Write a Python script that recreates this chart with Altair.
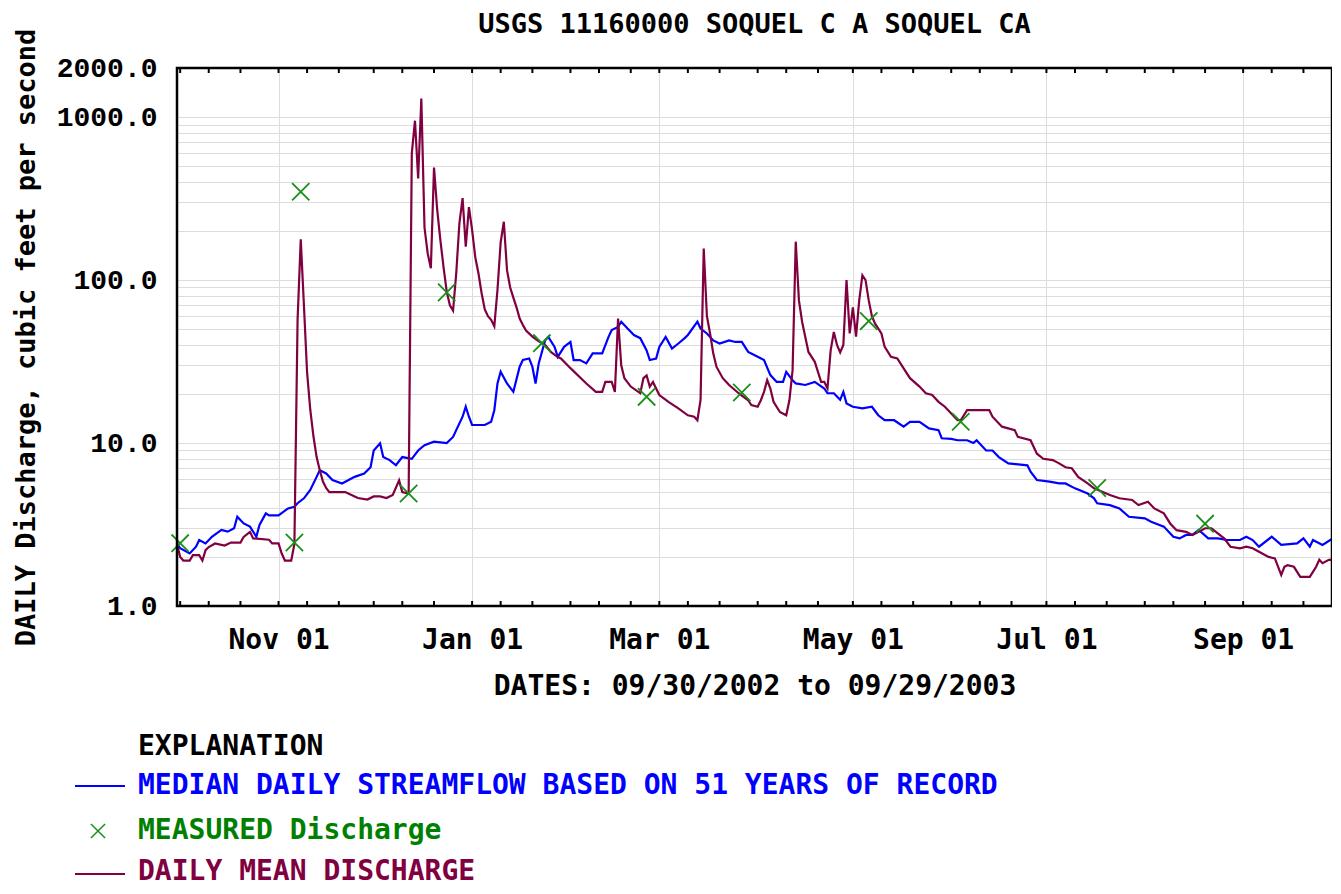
import altair as alt
import pandas as pd

START = pd.Timestamp("2002-09-30")

# ---- daily mean discharge (day offset from 2002-09-30, cfs)
mean_days = [0, 1, 2, 4, 5, 7, 8, 9, 10, 12, 15, 17, 20, 21, 23, 24, 29, 30, 32, 33, 34, 36,
             37, 38, 39, 40, 41, 42, 43, 44, 45, 46, 47, 48, 53, 55, 57, 60, 62, 64, 66, 68,
             70, 71, 73, 74, 75, 76, 77, 78, 79, 80, 81, 82, 83, 84, 85, 86, 87, 88, 89, 90,
             91, 92, 93, 94, 95, 96, 97, 98, 99, 100, 101, 102, 103, 104, 105, 106, 107, 108,
             109, 110, 112, 114, 116, 118, 120, 121, 124, 129, 132, 134, 135, 137, 138, 139,
             140, 141, 143, 146, 147, 148, 149, 150, 152, 155, 158, 161, 163, 164, 165, 166,
             167, 168, 169, 170, 172, 174, 177, 180, 181, 183, 184, 185, 186, 187, 188, 190,
             192, 193, 194, 195, 196, 197, 199, 201, 202, 203, 204, 205, 206, 207, 208, 209,
             210, 211, 212, 213, 214, 215, 216, 217, 218, 219, 220, 222, 223, 225, 227, 229,
             231, 234, 236, 238, 240, 242, 244, 246, 247, 249, 256, 257, 260, 264, 265, 269,
             271, 273, 276, 278, 280, 282, 284, 287, 289, 294, 297, 301, 303, 306, 308, 311,
             313, 315, 318, 320, 322, 324, 326, 328, 330, 332, 335, 337, 339, 341, 344, 346,
             348, 349, 350, 352, 354, 357, 358, 359, 360, 361, 363, 364]
mean_vals = [2.4, 2.0, 1.9, 1.9, 2.05, 2.05, 1.9, 2.2, 2.3, 2.42, 2.35, 2.45, 2.45, 2.65, 2.85,
             2.6, 2.55, 2.42, 2.42, 2.1, 1.9, 1.9,
             2.4, 57, 178, 70, 27, 16, 11, 8.2, 6.8, 5.8, 5.3, 5.0, 5.0, 4.8, 4.6, 4.5, 4.7, 4.7,
             4.6, 4.8,
             5.9, 5.0, 4.9, 600, 950, 420, 1300, 210, 146, 118, 490, 270, 176, 120, 85, 70, 65,
             110, 223, 318,
             160, 280, 203, 138, 110, 83, 66, 60, 57, 52, 87, 170, 228, 115, 90, 78, 68, 58,
             53, 49, 45, 42, 40, 36, 33.7, 33, 28.8, 23.2, 20.6, 20.6, 23.7, 23.7, 20.6, 58,
             30, 25, 22.2, 20.2, 25, 26, 22.2, 23.7, 19.7, 17.8, 16.3, 14.8, 14.5, 13.8, 18.4,
             156,
             60, 47, 35.5, 29.4, 25, 22.7, 20.2, 18.3, 17.1, 16.7, 18.3, 20.6, 24.3, 21.6, 17.9,
             15.5,
             14.8, 18.3, 28, 172, 75, 55.5, 36.2, 31.5, 27.3, 23.7, 23.7, 21.6, 37, 48, 40, 36,
             40, 100, 47, 68, 45, 75, 107, 100, 75, 60, 54, 47, 39, 33.8, 33, 28.7,
             25, 22.2, 20.2, 19.7, 17.9, 16.7, 15.2, 13.8, 13.8, 15.9, 15.9, 14.5, 12.6, 12.0,
             10.9, 10.4,
             8.6, 8.0, 7.86, 7.5, 7.1, 7.0, 6.2, 5.65, 5.27, 4.8, 4.58, 4.47, 4.16, 4.36, 3.97,
             3.7,
             3.21, 2.92, 2.85, 2.73, 2.85, 3.0, 3.0, 2.79, 2.6, 2.31, 2.26, 2.31, 2.26, 2.15,
             2.0, 1.96,
             1.55, 1.74, 1.78, 1.74, 1.51, 1.51, 1.62, 1.74, 1.92, 1.83, 1.92, 1.92]

# ---- median daily streamflow (51 years)
median_days = [0, 1, 4, 6, 7, 9, 11, 14, 16, 18, 19, 21, 23, 25, 26, 28, 29, 32, 35, 37, 38, 40,
               42, 44, 45, 47, 49, 52, 56, 59, 61, 62, 64, 65, 67, 69, 71, 74, 76, 78, 81, 85,
               87, 88, 90, 91, 92, 93, 97, 99, 100, 101, 102, 104, 106, 108, 109, 111, 112, 113,
               114, 116, 117, 119, 120, 122, 124, 125, 127, 129, 131, 134, 136, 137, 139, 140,
               142, 144, 146, 148, 149, 151, 152, 154, 156, 158, 160, 161, 164, 165, 167, 169,
               171, 174, 176, 178, 180, 183, 185, 187, 189, 191, 192, 194, 195, 198, 201, 204,
               205, 207, 209, 210, 211, 213, 216, 219, 221, 223, 226, 229, 231, 234, 237, 240,
               241, 244, 246, 249, 251, 252, 255, 257, 259, 262, 268, 269, 271, 275, 278, 280,
               283, 287, 289, 290, 294, 297, 300, 305, 307, 311, 314, 316, 318, 320, 322, 325,
               328, 331, 335, 337, 339, 341, 345, 348, 353, 355, 357, 358, 361, 364]
median_vals = [2.42, 2.26, 2.1, 2.31, 2.54, 2.42, 2.66, 2.93, 2.86, 3.0, 3.53, 3.21, 3.07, 2.66,
               3.14, 3.7, 3.6, 3.6, 3.97, 4.06, 4.27, 4.58,
               5.15, 6.2, 6.8, 6.5, 5.93, 5.65, 6.2, 6.5, 7.1, 9.0, 9.95, 8.2, 7.86, 7.3, 8.2,
               8.0, 9.0, 9.7, 10.2, 10.0,
               10.9, 12.0, 14.5, 16.7, 14.5, 12.9, 12.9, 13.5, 15.9, 23.2, 27.4, 23.2, 20.6,
               29.4, 32.3, 33, 29.4, 23.2,
               30.8, 42.6, 44.8, 38.9, 33.8, 38.9, 41.7, 32.3, 32.3, 30.8, 35.5, 35.5, 44.8,
               49.4, 51.5, 55.5,
               50.4, 46, 44, 37, 32.3, 33, 38.9, 44.8, 38, 40.8, 44, 46, 55.5, 50.4, 47, 42.6,
               40.8, 42.6, 41.7, 41.7, 36.2, 33.8, 32.3, 26.1, 23.7, 23.7, 27.3, 24.3, 23.2,
               22.7, 23.7, 21.6,
               20.2, 20.2, 18.4, 20.6, 17.5, 16.7, 16.3, 16.7, 14.8, 13.8, 13.8, 12.6, 13.5,
               13.5, 12.3, 12.0,
               10.7, 10.6, 10.4, 10.4, 10.0, 10.4, 9.0, 9.0, 8.2, 7.5, 7.3, 6.66, 5.93, 5.8,
               5.65, 5.65,
               5.27, 4.9, 4.58, 4.27, 4.16, 3.97, 3.53, 3.45, 3.29, 3.07, 2.66, 2.6, 2.73, 2.73,
               2.93, 2.6,
               2.6, 2.54, 2.54, 2.66, 2.54, 2.31, 2.66, 2.37, 2.42, 2.6, 2.31, 2.54, 2.37, 2.58]

# ---- measured discharge
meas_days = [1, 37, 39, 73, 85, 115, 148, 178, 218, 247, 290, 324]
meas_vals = [2.43, 2.45, 348, 4.9, 84, 41, 19.2, 20.4, 56, 13.5, 5.3, 3.2]

# ---- axis text
x_label_dates = [(2002, 11), (2003, 1), (2003, 3), (2003, 5), (2003, 7), (2003, 9)]
y_grid_values = [1, 2, 3, 4, 5, 6, 7, 8, 9, 10, 20, 30, 40, 50, 60, 70, 80, 90,
                 100, 200, 300, 400, 500, 600, 700, 800, 900, 1000, 2000]
y_label_values = [1, 10, 100, 1000, 2000]
minor_tick_days_of_month = [1, 10, 20]

TITLE = "USGS 11160000 SOQUEL C A SOQUEL CA"
X_TITLE = "DATES: 09/30/2002 to 09/29/2003"
Y_TITLE = "DAILY Discharge, cubic feet per second"
LEG_HEAD = "EXPLANATION"
LEG_MEDIAN = "MEDIAN DAILY STREAMFLOW BASED ON 51 YEARS OF RECORD"
LEG_MEAS = "MEASURED Discharge"
LEG_MEAN = "DAILY MEAN DISCHARGE"

BLUE = "#0000ff"
MAROON = "#800040"
GREEN = "#1a901a"
GREEN_TXT = "#008000"
MONO = "DejaVu Sans Mono"
W, H = 1155, 538


def to_dates(days):
    return [(START + pd.Timedelta(days=int(d))).strftime("%Y-%m-%dT00:00:00") for d in days]


df = pd.concat([
    pd.DataFrame({"date": to_dates(median_days), "value": median_vals, "series": "median"}),
    pd.DataFrame({"date": to_dates(mean_days), "value": mean_vals, "series": "mean"}),
    pd.DataFrame({"date": to_dates(meas_days), "value": meas_vals, "series": "measured"}),
], ignore_index=True)

tick_dates = []
for yr, mo in [(2002, 10), (2002, 11), (2002, 12)] + [(2003, m) for m in range(1, 10)]:
    for dd in minor_tick_days_of_month:
        tick_dates.append(pd.Timestamp(year=yr, month=mo, day=dd).strftime("%Y-%m-%dT00:00:00"))
ticks_df = pd.DataFrame({"date": tick_dates})

label_expr = ("indexof([" + ",".join(str(v) for v in y_label_values) +
              "], datum.value) >= 0 ? format(datum.value, '.1f') : ''")

X = alt.X(
    "date:T",
    scale=alt.Scale(domain=[alt.DateTime(year=2002, month=9, date=30),
                            alt.DateTime(year=2003, month=9, date=29)]),
    axis=alt.Axis(
        values=[alt.DateTime(year=y, month=m, date=1) for y, m in x_label_dates],
        format="%b %d", title=X_TITLE, grid=True, ticks=False, tickSize=0, domain=False,
        labelFont=MONO, labelFontSize=28, labelFontWeight="bold", labelColor="black",
        labelPadding=20, labelFlush=False, labelOverlap=False,
        titleFont=MONO, titleFontSize=28, titleFontWeight="bold", titleColor="black",
        titleBaseline="alphabetic", titleY=88,
    ),
)
Y = alt.Y(
    "value:Q",
    scale=alt.Scale(type="log", domain=[1, 2000], nice=False),
    axis=alt.Axis(
        values=y_grid_values, labelExpr=label_expr, grid=True, ticks=False, tickSize=0,
        domain=False, labelFont="Liberation Mono", labelFontSize=28, labelFontWeight="bold",
        labelColor="black", labelPadding=20, labelFlush=False, labelOverlap=False,
        title=Y_TITLE, titleFont=MONO, titleFontSize=27, titleFontWeight="bold",
        titleColor="black", titleX=-151, titleY=269, titleAngle=-90, titleAlign="center",
        titleBaseline="middle",
    ),
)

base = alt.Chart(df)
median_line = base.transform_filter(alt.datum.series == "median").mark_line(
    color=BLUE, strokeWidth=2.2, clip=True).encode(x=X, y=Y)
mean_line = base.transform_filter(alt.datum.series == "mean").mark_line(
    color=MAROON, strokeWidth=2.2, clip=True).encode(x=X, y=Y)
XPATH = "M-1,-1L1,1M-1,1L1,-1"
measured = base.transform_filter(alt.datum.series == "measured").mark_point(
    shape=XPATH, filled=False, color=GREEN, strokeWidth=1.8, size=300, opacity=1).encode(x=X, y=Y)

tick_top = alt.Chart(ticks_df).mark_rule(color="black", strokeWidth=2).encode(
    x=X, y=alt.value(0), y2=alt.value(5))
tick_bot = alt.Chart(ticks_df).mark_rule(color="black", strokeWidth=2).encode(
    x=X, y=alt.value(H - 5), y2=alt.value(H))

one = alt.Data(values=[{"k": 1}])

frame = alt.Chart(one).mark_rect(
    fill=None, fillOpacity=0, stroke="black", strokeWidth=2.5).encode(
    x=alt.value(0), x2=alt.value(W), y=alt.value(0), y2=alt.value(H))


def text_layer(txt, x, y, color, align="left", baseline="middle", size=28):
    return alt.Chart(one).mark_text(
        text=txt, font=MONO, fontSize=size, fontWeight="bold", align=align,
        baseline=baseline, color=color).encode(x=alt.value(x), y=alt.value(y))


title = text_layer(TITLE, W / 2, -35, "black", align="center", baseline="alphabetic", size=27)
leg_head = text_layer(LEG_HEAD, -39, 679, "black")
leg_med_t = text_layer(LEG_MEDIAN, -39, 718, BLUE)
leg_meas_t = text_layer(LEG_MEAS, -39, 763, GREEN_TXT)
leg_mean_t = text_layer(LEG_MEAN, -39, 804, MAROON)
leg_med_l = alt.Chart(one).mark_rule(color=BLUE, strokeWidth=2).encode(
    x=alt.value(-102), x2=alt.value(-52), y=alt.value(718))
leg_mean_l = alt.Chart(one).mark_rule(color=MAROON, strokeWidth=2).encode(
    x=alt.value(-102), x2=alt.value(-52), y=alt.value(806))
leg_meas_p = alt.Chart(one).mark_point(
    shape=XPATH, filled=False, color=GREEN, strokeWidth=1.5, size=200, opacity=1).encode(
    x=alt.value(-79), y=alt.value(763))

chart = alt.layer(
    median_line, mean_line, measured, tick_top, tick_bot, frame, title,
    leg_head, leg_med_t, leg_meas_t, leg_mean_t, leg_med_l, leg_mean_l, leg_meas_p,
).properties(
    width=W, height=H,
    autosize=alt.AutoSizeParams(type="none"),
    padding={"left": 169, "top": 60, "right": 0, "bottom": 280},
).configure_view(
    stroke=None
).configure_axis(
    gridColor="#b4b4b4", gridWidth=2, gridOpacity=1
).configure(background="white")

chart.save("out.html", embed_options={"renderer": "svg", "actions": False})
